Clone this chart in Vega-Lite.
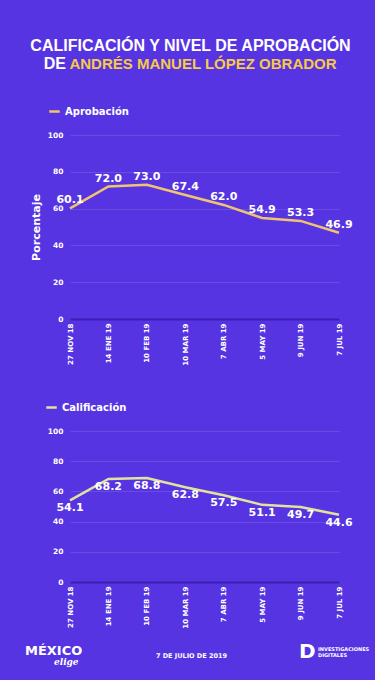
{
  "$schema": "https://vega.github.io/schema/vega-lite/v6.json",
  "background": "#5634E2",
  "padding": {"left": 25, "top": 38, "right": 5, "bottom": 5},
  "title": {
    "text": ["CALIFICACIÓN Y NIVEL DE APROBACIÓN", "DE\u00a0\u00a0\u00a0\u00a0\u00a0\u00a0\u00a0\u00a0\u00a0\u00a0\u00a0\u00a0\u00a0\u00a0\u00a0\u00a0\u00a0\u00a0\u00a0\u00a0\u00a0\u00a0\u00a0\u00a0\u00a0\u00a0\u00a0\u00a0\u00a0\u00a0\u00a0\u00a0\u00a0\u00a0\u00a0\u00a0\u00a0\u00a0\u00a0\u00a0\u00a0\u00a0\u00a0\u00a0\u00a0\u00a0\u00a0\u00a0\u00a0\u00a0\u00a0\u00a0\u00a0\u00a0\u00a0\u00a0\u00a0\u00a0\u00a0\u00a0\u00a0\u200b"],
    "subtitle": "\u200b\u00a0\u00a0\u00a0\u00a0\u00a0\u00a0ANDRÉS MANUEL LÓPEZ OBRADOR",
    "anchor": "middle",
    "frame": "group",
    "dx": -14,
    "font": "Liberation Sans",
    "fontSize": 16,
    "fontWeight": "bold",
    "color": "#FFFFFF",
    "lineHeight": 18,
    "subtitleFont": "Liberation Sans",
    "subtitleFontSize": 15,
    "subtitleFontWeight": "bold",
    "subtitleColor": "#F7C948",
    "subtitlePadding": -15,
    "offset": 33
  },
  "datasets": {
    "encuesta": [
      {"fecha": "27 NOV 18", "serie": "Aprobación", "valor": 60.1},
      {"fecha": "14 ENE 19", "serie": "Aprobación", "valor": 72.0},
      {"fecha": "10 FEB 19", "serie": "Aprobación", "valor": 73.0},
      {"fecha": "10 MAR 19", "serie": "Aprobación", "valor": 67.4},
      {"fecha": "7 ABR 19", "serie": "Aprobación", "valor": 62.0},
      {"fecha": "5 MAY 19", "serie": "Aprobación", "valor": 54.9},
      {"fecha": "9 JUN 19", "serie": "Aprobación", "valor": 53.3},
      {"fecha": "7 JUL 19", "serie": "Aprobación", "valor": 46.9},
      {"fecha": "27 NOV 18", "serie": "Calificación", "valor": 54.1},
      {"fecha": "14 ENE 19", "serie": "Calificación", "valor": 68.2},
      {"fecha": "10 FEB 19", "serie": "Calificación", "valor": 68.8},
      {"fecha": "10 MAR 19", "serie": "Calificación", "valor": 62.8},
      {"fecha": "7 ABR 19", "serie": "Calificación", "valor": 57.5},
      {"fecha": "5 MAY 19", "serie": "Calificación", "valor": 51.1},
      {"fecha": "9 JUN 19", "serie": "Calificación", "valor": 49.7},
      {"fecha": "7 JUL 19", "serie": "Calificación", "valor": 44.6}
    ],
    "pie": [
      {"grupo": "izquierda", "pieza": "mexico", "texto": "MÉXICO"},
      {"grupo": "izquierda", "pieza": "elige", "texto": "elige"},
      {"grupo": "centro", "pieza": "fecha", "texto": "7 DE JULIO DE 2019"},
      {"grupo": "derecha", "pieza": "d", "texto": "D"},
      {"grupo": "derecha", "pieza": "inv", "texto": "INVESTIGACIONES"},
      {"grupo": "derecha", "pieza": "dig", "texto": "DIGITALES"}
    ]
  },
  "bounds": "flush",
  "spacing": 112,
  "vconcat": [
    {
      "width": 269,
      "height": 184,
      "data": {"name": "encuesta"},
      "transform": [{"filter": "datum.serie === 'Aprobación'"}],
      "encoding": {
        "x": {"field": "fecha", "type": "ordinal", "sort": null, "scale": {"type": "point", "padding": 0},
          "axis": {"title": null, "labelAngle": -90, "labelFont": "DejaVu Sans", "labelFontWeight": "bold", "labelFontSize": 7, "labelColor": "#FFFFFF", "ticks": false, "labelPadding": 4, "domainColor": "#3A1FB0", "domainWidth": 2, "grid": false}},
        "y": {"field": "valor", "type": "quantitative", "scale": {"domain": [0, 100]},
          "axis": {"title": "Porcentaje", "titleFont": "DejaVu Sans", "titleFontSize": 11, "titleFontWeight": "bold", "titleColor": "#FFFFFF", "titlePadding": 6, "values": [0, 20, 40, 60, 80, 100], "labelFont": "DejaVu Sans", "labelFontWeight": "bold", "labelFontSize": 7.5, "labelColor": "#FFFFFF", "labelPadding": 7, "ticks": false, "domain": false, "gridColor": "#FFFFFF", "gridOpacity": 0.12}}
      },
      "layer": [
        {"mark": {"type": "line", "strokeWidth": 2.5},
          "encoding": {"color": {"field": "serie", "type": "nominal", "scale": {"range": ["#F0C46E"]},
            "legend": {"title": null, "orient": "none", "legendX": -22, "legendY": -30, "symbolType": "stroke", "symbolStrokeWidth": 2.5, "symbolSize": 110, "labelFont": "DejaVu Sans", "labelFontWeight": "bold", "labelFontSize": 10, "labelColor": "#FFFFFF"}}}},
        {"mark": {"type": "text", "dy": -8, "font": "DejaVu Sans", "fontWeight": "bold", "fontSize": 11, "color": "#FFFFFF"},
          "encoding": {"text": {"field": "valor", "type": "quantitative", "format": ".1f"}}}
      ]
    },
    {
      "width": 269,
      "height": 151,
      "data": {"name": "encuesta"},
      "transform": [{"filter": "datum.serie === 'Calificación'"}],
      "encoding": {
        "x": {"field": "fecha", "type": "ordinal", "sort": null, "scale": {"type": "point", "padding": 0},
          "axis": {"title": null, "labelAngle": -90, "labelFont": "DejaVu Sans", "labelFontWeight": "bold", "labelFontSize": 7, "labelColor": "#FFFFFF", "ticks": false, "labelPadding": 4, "domainColor": "#3A1FB0", "domainWidth": 2, "grid": false}},
        "y": {"field": "valor", "type": "quantitative", "scale": {"domain": [0, 100]},
          "axis": {"title": null, "values": [0, 20, 40, 60, 80, 100], "labelFont": "DejaVu Sans", "labelFontWeight": "bold", "labelFontSize": 7.5, "labelColor": "#FFFFFF", "labelPadding": 7, "ticks": false, "domain": false, "gridColor": "#FFFFFF", "gridOpacity": 0.12}}
      },
      "layer": [
        {"mark": {"type": "line", "strokeWidth": 2.5},
          "encoding": {"color": {"field": "serie", "type": "nominal", "scale": {"range": ["#E2E29C"]},
            "legend": {"title": null, "orient": "none", "legendX": -25, "legendY": -30, "symbolType": "stroke", "symbolStrokeWidth": 2.5, "symbolSize": 110, "labelFont": "DejaVu Sans", "labelFontWeight": "bold", "labelFontSize": 10, "labelColor": "#FFFFFF"}}}},
        {"mark": {"type": "text", "dy": 8, "font": "DejaVu Sans", "fontWeight": "bold", "fontSize": 11, "color": "#FFFFFF"},
          "encoding": {"text": {"field": "valor", "type": "quantitative", "format": ".1f"}}}
      ]
    },
    {
      "width": 269,
      "height": 30,
      "data": {"name": "pie"},
      "encoding": {
        "x": {"field": "grupo", "type": "nominal", "sort": ["izquierda", "centro", "derecha"], "scale": {"type": "point", "padding": 0}, "axis": null},
        "text": {"field": "texto"}
      },
      "layer": [
        {"transform": [{"filter": "datum.pieza === 'mexico'"}],
          "mark": {"type": "text", "align": "left", "dx": -45, "dy": -58, "font": "DejaVu Sans", "fontWeight": "bold", "fontSize": 13, "color": "#FFFFFF"}},
        {"transform": [{"filter": "datum.pieza === 'elige'"}],
          "mark": {"type": "text", "align": "left", "dx": -16, "dy": -47, "font": "DejaVu Serif", "fontStyle": "italic", "fontWeight": "bold", "fontSize": 9, "color": "#FFFFFF"}},
        {"transform": [{"filter": "datum.pieza === 'fecha'"}],
          "mark": {"type": "text", "align": "center", "dx": -13, "dy": -53, "font": "DejaVu Sans", "fontWeight": "bold", "fontSize": 6.5, "color": "#FFFFFF"}},
        {"transform": [{"filter": "datum.pieza === 'd'"}],
          "mark": {"type": "text", "align": "left", "dx": -40, "dy": -57, "font": "DejaVu Sans", "fontWeight": "bold", "fontSize": 20, "color": "#FFFFFF"}},
        {"transform": [{"filter": "datum.pieza === 'inv'"}],
          "mark": {"type": "text", "align": "left", "dx": -21, "dy": -60, "font": "DejaVu Sans", "fontWeight": "bold", "fontSize": 5, "color": "#FFFFFF"}},
        {"transform": [{"filter": "datum.pieza === 'dig'"}],
          "mark": {"type": "text", "align": "left", "dx": -21, "dy": -54, "font": "DejaVu Sans", "fontWeight": "bold", "fontSize": 5, "color": "#FFFFFF"}}
      ]
    }
  ],
  "resolve": {"scale": {"color": "independent"}},
  "config": {"view": {"stroke": null}}
}
